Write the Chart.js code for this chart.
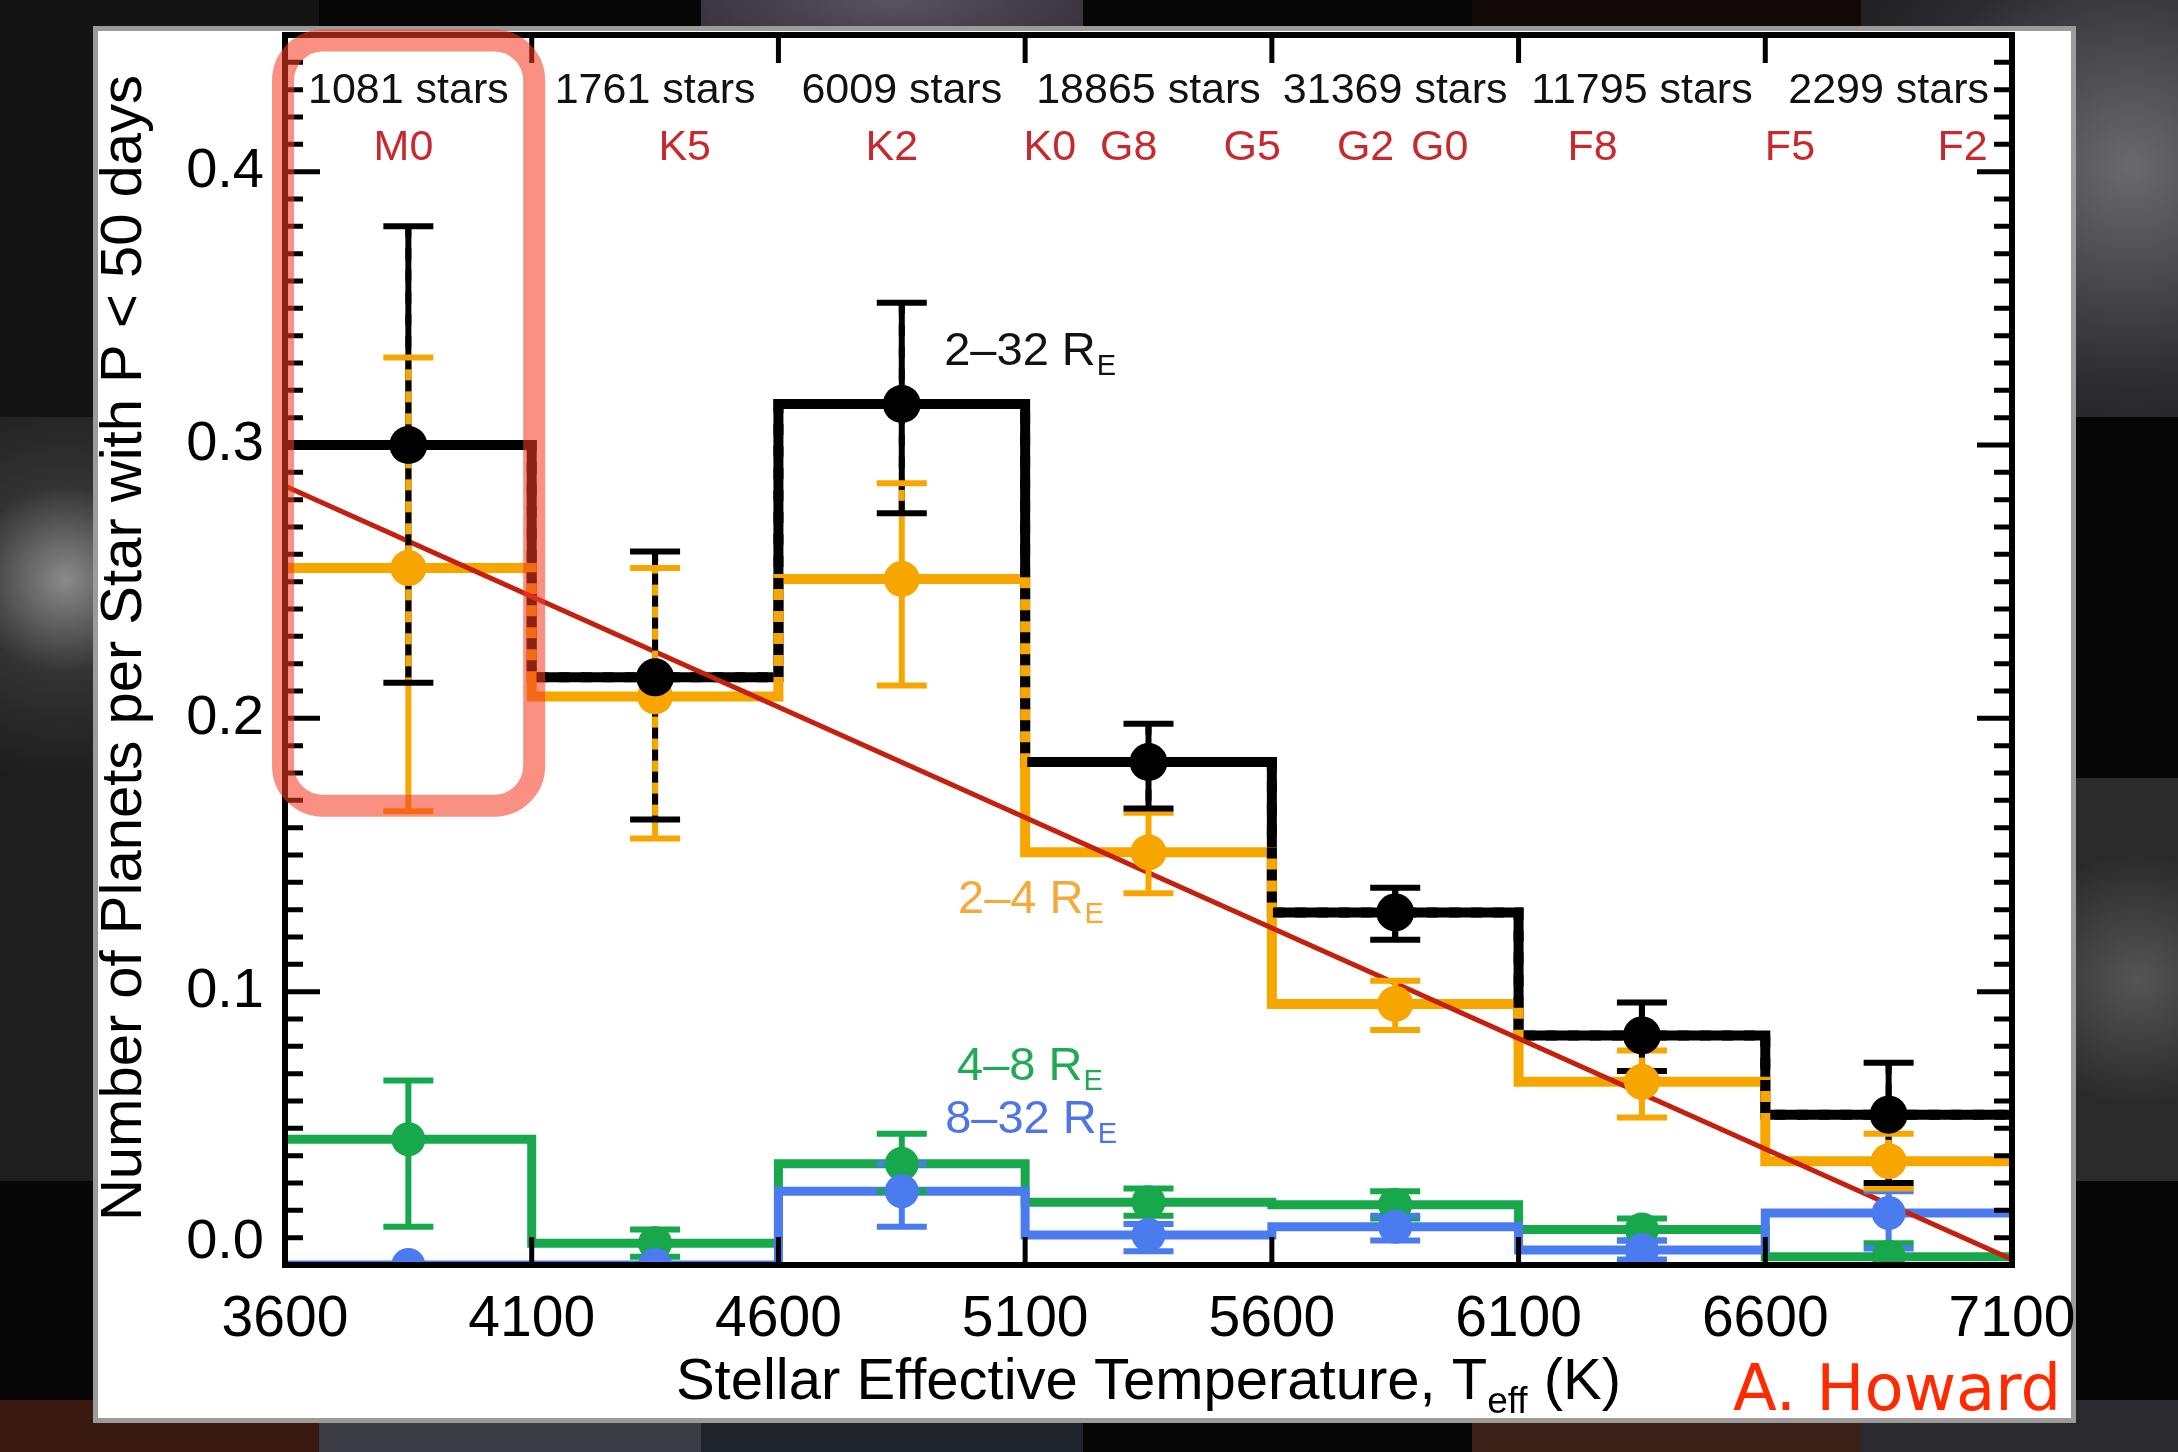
<!DOCTYPE html>
<html>
<head>
<meta charset="utf-8">
<title>Planets per star vs stellar temperature</title>
<script src="https://cdn.jsdelivr.net/npm/chart.js@4.4.1/dist/chart.umd.min.js"></script>
<style>
html, body { margin: 0; padding: 0; }
body { width: 2178px; height: 1452px; background: #060606; position: relative; overflow: hidden; }
.tile { position: absolute; }
#panel { position: absolute; left: 93px; top: 26px; width: 1983px; height: 1397px; background: #fff; border: 5px solid #9b9b9b; box-sizing: border-box; }
#wrap { position: absolute; left: 0; top: 0; width: 2178px; height: 1452px; }
</style>
</head>
<body>
<!-- blurred background tiles behind the slide -->
<div class="tile" style="left:0;top:0;width:319px;height:417px;background:#141414"></div>
<div class="tile" style="left:701px;top:0;width:382px;height:60px;background:radial-gradient(ellipse at 50% 0%, #5a5260, #2e2a32)"></div>
<div class="tile" style="left:1472px;top:0;width:389px;height:60px;background:#120909"></div>
<div class="tile" style="left:1861px;top:0;width:317px;height:417px;background:radial-gradient(circle at 85% 40%, #6a6a6e, #2c2c30 60%, #1a1a1c)"></div>
<div class="tile" style="left:0;top:417px;width:93px;height:361px;background:radial-gradient(circle at 70% 45%, #8a8a8a, #333 45%, #1c1c1c)"></div>
<div class="tile" style="left:0;top:778px;width:93px;height:403px;background:#1e1e1e"></div>
<div class="tile" style="left:2076px;top:778px;width:102px;height:403px;background:radial-gradient(circle at 60% 50%, #555, #2a2a2a 60%)"></div>
<div class="tile" style="left:0;top:1400px;width:319px;height:52px;background:#3a1a10"></div>
<div class="tile" style="left:319px;top:1400px;width:382px;height:52px;background:#3c3c44"></div>
<div class="tile" style="left:701px;top:1400px;width:382px;height:52px;background:#20242c"></div>
<div class="tile" style="left:1472px;top:1400px;width:389px;height:52px;background:#3a2218"></div>
<div class="tile" style="left:1861px;top:1400px;width:317px;height:52px;background:#2a2a2e"></div>
<div id="panel"></div>
<div id="wrap"><canvas id="mycanvas" width="2178" height="1452"></canvas></div>
<script>
// temperature bins (K)
var binEdges = [3600, 4100, 4600, 5100, 5600, 6100, 6600, 7100];
var binCenters = [3850, 4350, 4850, 5350, 5850, 6350, 6850];
var starCounts = [1081, 1761, 6009, 18865, 31369, 11795, 2299];
var specTypes = ['M0', 'K5', 'K2', 'K0', 'G8', 'G5', 'G2', 'G0', 'F8', 'F5', 'F2'];
var specTeff = [3840, 4410, 4830, 5150, 5310, 5560, 5790, 5940, 6250, 6650, 7000];
var xTicks = [3600, 4100, 4600, 5100, 5600, 6100, 6600, 7100];
var yTicks = [0.0, 0.1, 0.2, 0.3, 0.4];

// 2-32 R_E (black)
var allRate = [0.300, 0.215, 0.315, 0.184, 0.129, 0.084, 0.055];
var allLo   = [0.213, 0.163, 0.275, 0.167, 0.119, 0.071, 0.030];
var allHi   = [0.380, 0.261, 0.352, 0.198, 0.138, 0.096, 0.074];
// 2-4 R_E (orange)
var smallRate = [0.255, 0.208, 0.251, 0.151, 0.0955, 0.067, 0.038];
var smallLo   = [0.166, 0.156, 0.212, 0.136, 0.086, 0.054, 0.028];
var smallHi   = [0.332, 0.255, 0.286, 0.1655, 0.104, 0.0785, 0.048];
// 4-8 R_E (green)
var midRate = [0.046, 0.008, 0.037, 0.023, 0.022, 0.013, 0.003];
var midLo   = [0.014, 0.003, 0.027, 0.018, 0.017, 0.009, 0.000];
var midHi   = [0.0675, 0.013, 0.048, 0.028, 0.027, 0.017, 0.008];
// 8-32 R_E (blue)
var bigRate = [0.000, 0.000, 0.027, 0.011, 0.014, 0.0055, 0.019];
var bigLo   = [0.000, 0.000, 0.014, 0.005, 0.009, 0.002, 0.006];
var bigHi   = [0.000, 0.000, 0.037, 0.015, 0.018, 0.009, 0.027];
// linear fit
var fitTeff = [3600, 7100];
var fitRate = [0.285, 0.002];

var cBlack = '#000000', cOrange = '#f7a600', cGreen = '#16a84b', cBlue = '#4a7bef', cFit = '#c3200e';

function stepData(vals) {
    // one point per bin edge, last bin value repeated at the right edge
    var pts = [];
    for (var i = 0; i < binEdges.length; i++) {
        pts.push({x: binEdges[i], y: vals[Math.min(i, vals.length - 1)]});
    }
    return pts;
}
function pointData(vals) {
    return binCenters.map(function(x, i) { return {x: x, y: vals[i]}; });
}
function stepSet(label, vals, color, width, order, dash) {
    return {type: 'line', label: label, data: stepData(vals), stepped: 'before', borderColor: color,
        borderWidth: width, borderDash: dash || [], pointRadius: 0, fill: false, order: order, clip: 0};
}
function pointSet(label, vals, color, r, order) {
    return {type: 'line', label: label, data: pointData(vals), showLine: false, pointRadius: r,
        pointHoverRadius: r, pointBackgroundColor: color, pointBorderWidth: 0, order: order, clip: 0};
}

// error bars, drawn through the scales right after the fit line
function errVerticals(chart, lo, hi, color, dash) {
    var ctx = chart.ctx, xs = chart.scales.x, ys = chart.scales.y;
    ctx.save();
    ctx.strokeStyle = color;
    ctx.lineWidth = 6;
    ctx.setLineDash(dash || []);
    for (var i = 0; i < binCenters.length; i++) {
        if (hi[i] - lo[i] <= 0) continue;
        var px = xs.getPixelForValue(binCenters[i]);
        ctx.beginPath();
        ctx.moveTo(px, ys.getPixelForValue(hi[i]));
        ctx.lineTo(px, ys.getPixelForValue(lo[i]));
        ctx.stroke();
    }
    ctx.restore();
}
function errCaps(chart, lo, hi, color) {
    var ctx = chart.ctx, xs = chart.scales.x, ys = chart.scales.y;
    ctx.save();
    ctx.strokeStyle = color;
    ctx.lineWidth = 6;
    for (var i = 0; i < binCenters.length; i++) {
        if (hi[i] - lo[i] <= 0) continue;
        var px = xs.getPixelForValue(binCenters[i]);
        [lo[i], hi[i]].forEach(function(v) {
            var py = ys.getPixelForValue(v);
            ctx.beginPath();
            ctx.moveTo(px - 25, py);
            ctx.lineTo(px + 25, py);
            ctx.stroke();
        });
    }
    ctx.restore();
}

var errorBars = {
    id: 'errorBars',
    afterDatasetDraw: function(chart, args) {
        if (args.meta.label !== 'fit') return;
        var a = chart.chartArea, ctx = chart.ctx;
        ctx.save();
        ctx.beginPath();
        ctx.rect(a.left, a.top, a.right - a.left, a.bottom - a.top);
        ctx.clip();
        errVerticals(chart, midLo, midHi, cGreen);
        errVerticals(chart, bigLo, bigHi, cBlue);
        errVerticals(chart, allLo, allHi, cBlack);
        errVerticals(chart, smallLo, smallHi, cOrange);
        errVerticals(chart, allLo, allHi, cBlack, [11, 11]);
        errCaps(chart, midLo, midHi, cGreen);
        errCaps(chart, bigLo, bigHi, cBlue);
        errCaps(chart, smallLo, smallHi, cOrange);
        errCaps(chart, allLo, allHi, cBlack);
        ctx.restore();
    }
};

function labelWithSub(ctx, x, y, main, sub, size, color) {
    ctx.fillStyle = color;
    ctx.textAlign = 'left';
    ctx.textBaseline = 'alphabetic';
    ctx.font = size + "px 'Liberation Sans', Arial, sans-serif";
    ctx.fillText(main, x, y);
    var w = ctx.measureText(main).width;
    ctx.font = Math.round(size * 0.62) + "px 'Liberation Sans', Arial, sans-serif";
    ctx.fillText(sub, x + w + 1, y + size * 0.22);
}

var frameAndText = {
    id: 'frameAndText',
    afterDraw: function(chart) {
        var ctx = chart.ctx, a = chart.chartArea, xs = chart.scales.x, ys = chart.scales.y;
        var font = "'Liberation Sans', Arial, sans-serif";
        ctx.save();
        // frame
        ctx.strokeStyle = '#000';
        ctx.lineWidth = 6;
        ctx.strokeRect(a.left, a.top, a.right - a.left, a.bottom - a.top);
        // y ticks, both sides, every 0.01
        ctx.lineWidth = 5;
        for (var k = 0; k <= 45; k++) {
            var py = ys.getPixelForValue(k / 100);
            var len = (k % 10 === 0) ? 35 : 18;
            ctx.beginPath();
            ctx.moveTo(a.left, py); ctx.lineTo(a.left + len, py);
            ctx.moveTo(a.right, py); ctx.lineTo(a.right - len, py);
            ctx.stroke();
        }
        // x ticks at bin edges, top and bottom
        for (var j = 1; j < binEdges.length - 1; j++) {
            var px = xs.getPixelForValue(binEdges[j]);
            ctx.beginPath();
            ctx.moveTo(px, a.top); ctx.lineTo(px, a.top + 28);
            ctx.moveTo(px, a.bottom); ctx.lineTo(px, a.bottom - 28);
            ctx.stroke();
        }
        // star counts and spectral types
        ctx.textAlign = 'center';
        ctx.textBaseline = 'middle';
        ctx.font = '43px ' + font;
        ctx.fillStyle = '#111';
        starCounts.forEach(function(n, i) {
            ctx.fillText(n + ' stars', xs.getPixelForValue(binCenters[i]), 91);
        });
        ctx.fillStyle = '#c62a2e';
        specTypes.forEach(function(s, i) {
            ctx.fillText(s, xs.getPixelForValue(specTeff[i]), 148);
        });
        // the 0.0 label sits a little above its tick
        ctx.font = '56px ' + font;
        ctx.fillStyle = '#000';
        ctx.textAlign = 'right';
        ctx.fillText(yTicks[0].toFixed(1), a.left - 21, ys.getPixelForValue(0) - 22);
        // series labels
        labelWithSub(ctx, xs.getPixelForValue(4936), ys.getPixelForValue(0.3293), '2\u201332 R', 'E', 47, '#111');
        labelWithSub(ctx, xs.getPixelForValue(4964), ys.getPixelForValue(0.1288), '2\u20134 R', 'E', 47, '#f5a93a');
        labelWithSub(ctx, xs.getPixelForValue(4962), ys.getPixelForValue(0.0677), '4\u20138 R', 'E', 47, '#22a955');
        labelWithSub(ctx, xs.getPixelForValue(4938), ys.getPixelForValue(0.0483), '8\u201332 R', 'E', 47, '#4f74e6');
        // x title with subscript, centred under the plot
        ctx.font = '58px ' + font;
        var t1 = 'Stellar Effective Temperature, T', t2 = 'eff', t3 = ' (K)';
        var w1 = ctx.measureText(t1).width, w3 = ctx.measureText(t3).width;
        ctx.font = '37px ' + font;
        var w2 = ctx.measureText(t2).width;
        var x0 = (a.left + a.right) / 2 - (w1 + w2 + w3) / 2;
        ctx.textAlign = 'left';
        ctx.textBaseline = 'alphabetic';
        ctx.fillStyle = '#000';
        ctx.font = '58px ' + font;
        ctx.fillText(t1, x0, 1399);
        ctx.font = '37px ' + font;
        ctx.fillText(t2, x0 + w1, 1413);
        ctx.font = '58px ' + font;
        ctx.fillText(t3, x0 + w1 + w2, 1399);
        // y title
        ctx.save();
        ctx.translate(141, (a.top + a.bottom) / 2 - 2);
        ctx.rotate(-Math.PI / 2);
        ctx.textAlign = 'center';
        ctx.fillText('Number of Planets per Star with P < 50 days', 0, 0);
        ctx.restore();
        // credit
        ctx.font = "64px 'DejaVu Sans', sans-serif";
        ctx.fillStyle = '#ff2a00';
        ctx.textAlign = 'left';
        ctx.fillText('A. Howard', 1733, 1410);
        // highlight box around the M0 bin
        var bx0 = xs.getPixelForValue(3596), bx1 = xs.getPixelForValue(4105);
        var by0 = ys.getPixelForValue(0.448), by1 = ys.getPixelForValue(0.168);
        ctx.strokeStyle = 'rgba(244, 60, 36, 0.57)';
        ctx.lineWidth = 22;
        ctx.beginPath();
        ctx.roundRect(bx0, by0, bx1 - bx0, by1 - by0, 40);
        ctx.stroke();
        ctx.restore();
    }
};

function noPad(s) {
    s.paddingTop = 0; s.paddingBottom = 0; s.paddingLeft = 0; s.paddingRight = 0;
}

Chart.defaults.font.family = "'Liberation Sans', Arial, sans-serif";
Chart.defaults.color = '#000';

var ctx = document.getElementById('mycanvas');
var chart = new Chart(ctx, {
    type: 'line',
    data: {
        datasets: [
            stepSet('4-8', midRate, cGreen, 9, 20),
            stepSet('8-32', bigRate, cBlue, 9, 19),
            stepSet('2-32', allRate, cBlack, 10, 18),
            stepSet('2-4', smallRate, cOrange, 10, 17),
            stepSet('2-32 overlap', allRate, cBlack, 10, 16, [11, 11]),
            {type: 'line', label: 'fit', data: fitTeff.map(function(t, i) { return {x: t, y: fitRate[i]}; }),
                borderColor: cFit, borderWidth: 5, pointRadius: 0, fill: false, order: 10, clip: 0},
            pointSet('4-8 pts', midRate, cGreen, 17, 4),
            pointSet('8-32 pts', bigRate, cBlue, 17, 3),
            pointSet('2-4 pts', smallRate, cOrange, 18, 2),
            pointSet('2-32 pts', allRate, cBlack, 19, 1)
        ]
    },
    options: {
        responsive: false,
        devicePixelRatio: 1,
        animation: false,
        layout: {padding: {top: 35, right: 166, left: 0, bottom: 0}},
        plugins: {legend: {display: false}, tooltip: {enabled: false}},
        scales: {
            x: {
                type: 'linear', min: 3600, max: 7100, position: 'bottom',
                afterFit: function(s) { s.height = 187; noPad(s); },
                afterBuildTicks: function(s) { s.ticks = xTicks.map(function(v) { return {value: v}; }); },
                grid: {display: false, drawTicks: false},
                border: {display: false},
                ticks: {font: {size: 57}, color: '#000', padding: 21, maxRotation: 0, autoSkip: false,
                    callback: function(v) { return String(v); }}
            },
            y: {
                type: 'linear', min: 0, max: 0.45,
                afterFit: function(s) { s.width = 285; noPad(s); },
                afterBuildTicks: function(s) { s.ticks = yTicks.map(function(v) { return {value: v}; }); },
                grid: {display: false, drawTicks: false},
                border: {display: false},
                ticks: {font: {size: 56}, color: '#000', padding: 21,
                    callback: function(v) { return v === 0 ? '' : v.toFixed(1); }}
            }
        }
    },
    plugins: [errorBars, frameAndText]
});
</script>
</body>
</html>
